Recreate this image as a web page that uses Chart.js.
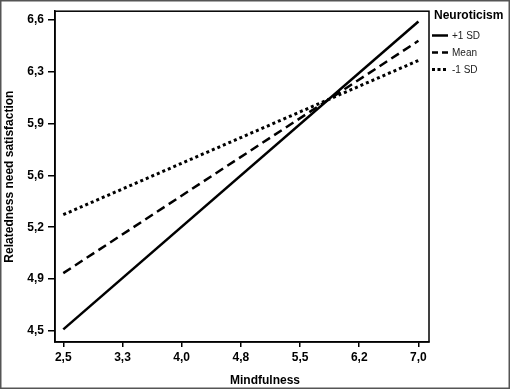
<!DOCTYPE html>
<html>
<head>
<meta charset="utf-8">
<script src="https://cdn.jsdelivr.net/npm/chart.js@4"></script>
<style>
  html, body { margin: 0; padding: 0; background: #fff; }
  #wrap { width: 510px; height: 389px; }
</style>
</head>
<body>
<div id="wrap"><canvas id="chart" width="510" height="389"></canvas></div>
<script>
// Simple slopes: relatedness need satisfaction by mindfulness, per neuroticism level
const mindfulness = [2.5, 7.0];
const plusOneSD = [4.51, 6.59];
const meanLevel = [4.89, 6.46];
const minusOneSD = [5.285, 6.327];

const seriesNames = ['+1 SD', 'Mean', '-1 SD'];

const xTickValues = [2.5, 3.25, 4.0, 4.75, 5.5, 6.25, 7.0];
const xTickLabels = ['2,5', '3,3', '4,0', '4,8', '5,5', '6,2', '7,0'];
const yTickValues = [4.5, 4.85, 5.2, 5.55, 5.9, 6.25, 6.6];
const yTickLabels = ['4,5', '4,9', '5,2', '5,6', '5,9', '6,3', '6,6'];

const FONT = "Arial, 'Liberation Sans', sans-serif";

function toPoints(ys) {
    return mindfulness.map((x, i) => ({ x: x, y: ys[i] }));
}

const dashes = [[], [9, 5], [3, 3]];
const widths = [2.5, 2.5, 3];
// legend samples use shorter dashes
const legendDashes = [[], [6, 4], [3, 2.5]];

const datasets = [plusOneSD, meanLevel, minusOneSD].map((ys, i) => ({
    label: seriesNames[i],
    data: toPoints(ys),
    showLine: true,
    borderColor: '#000',
    borderWidth: widths[i],
    borderDash: dashes[i],
    pointRadius: 0,
    fill: false
}));

// frame, plot box, legend and x title
const decorPlugin = {
    id: 'decor',
    afterDraw(chart) {
        const ctx = chart.ctx;
        const a = chart.chartArea;
        ctx.save();
        // outer frame of the figure
        ctx.strokeStyle = '#555';
        ctx.lineWidth = 1.5;
        ctx.strokeRect(0.75, 0.75, chart.width - 1.5, chart.height - 1.5);
        // plot box
        ctx.strokeStyle = '#000';
        ctx.lineWidth = 1.5;
        ctx.strokeRect(a.left, a.top, a.right - a.left, a.bottom - a.top);

        // x axis title
        ctx.fillStyle = '#000';
        ctx.font = 'bold 12px ' + FONT;
        ctx.textAlign = 'center';
        ctx.textBaseline = 'middle';
        ctx.fillText('Mindfulness', 265, 381);

        // legend
        ctx.textAlign = 'left';
        ctx.fillText('Neuroticism', 434, 16);
        ctx.font = '10px ' + FONT;
        const rowY = [35.5, 52.5, 69.5];
        datasets.forEach((ds, i) => {
            ctx.beginPath();
            ctx.setLineDash(legendDashes[i]);
            ctx.lineWidth = widths[i];
            ctx.moveTo(432, rowY[i]);
            ctx.lineTo(448, rowY[i]);
            ctx.stroke();
            ctx.setLineDash([]);
            ctx.fillStyle = '#222';
            ctx.fillText(ds.label, 452, rowY[i] + 0.5);
        });
        ctx.restore();
    }
};

const chart = new Chart(document.getElementById('chart'), {
    type: 'scatter',
    data: { datasets: datasets },
    options: {
        responsive: false,
        animation: false,
        layout: { padding: { left: 0, top: 7, right: 81, bottom: 0 } },
        plugins: {
            legend: { display: false },
            tooltip: { enabled: false }
        },
        scales: {
            x: {
                type: 'linear',
                min: 2.395,
                max: 7.134,
                afterBuildTicks: scale => {
                    scale.ticks = xTickValues.map(v => ({ value: v }));
                },
                afterFit: scale => { scale.height = 47; },
                ticks: {
                    autoSkip: false,
                    maxRotation: 0,
                    padding: 3,
                    color: '#000',
                    font: { family: FONT, size: 12, weight: 'bold' },
                    callback: (value, index) => xTickLabels[index]
                },
                grid: { drawOnChartArea: false, tickLength: 5, color: '#000', lineWidth: 1.5 },
                border: { display: true, color: '#000', width: 1.5 }
            },
            y: {
                type: 'linear',
                min: 4.4245,
                max: 6.66,
                afterBuildTicks: scale => {
                    scale.ticks = yTickValues.map(v => ({ value: v }));
                },
                afterFit: scale => { scale.width = 55; },
                ticks: {
                    autoSkip: false,
                    padding: 4,
                    color: '#000',
                    font: { family: FONT, size: 12, weight: 'bold' },
                    callback: (value, index) => yTickLabels[index]
                },
                title: {
                    display: true,
                    text: 'Relatedness need satisfaction',
                    color: '#000',
                    padding: { top: 2, bottom: 2 },
                    font: { family: FONT, size: 12, weight: 'bold' }
                },
                grid: { drawOnChartArea: false, tickLength: 7, color: '#000', lineWidth: 1.5 },
                border: { display: true, color: '#000', width: 1.5 }
            }
        }
    },
    plugins: [decorPlugin]
});
</script>
</body>
</html>
